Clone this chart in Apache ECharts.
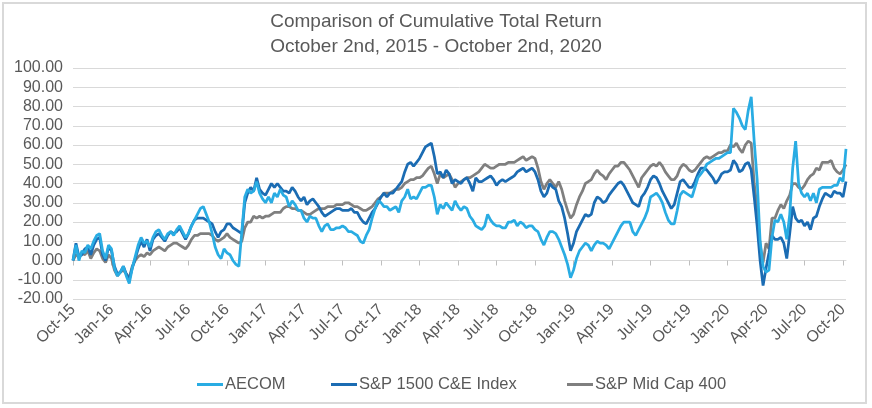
<!DOCTYPE html>
<html><head><meta charset="utf-8">
<script src="https://cdn.jsdelivr.net/npm/echarts@6/dist/echarts.min.js"></script>
<style>html,body{margin:0;padding:0;background:#fff}#c{width:872px;height:408px}</style>
</head><body><div id="c"></div>
<script>
const tickLabels = ['Oct-15','Jan-16','Apr-16','Jul-16','Oct-16','Jan-17','Apr-17','Jul-17','Oct-17','Jan-18','Apr-18','Jul-18','Oct-18','Jan-19','Apr-19','Jul-19','Oct-19','Jan-20','Apr-20','Jul-20','Oct-20'];
const seriesNames = ['AECOM', 'S&P 1500 C&E Index', 'S&P Mid Cap 400'];
const aecom = [
0, 8, 0, 5, 4, 8, 6, 10, 13, 14, 5, 1, 8, 6,
-4, -8, -6, -3, -8, -12, -4, 2, 8, 12, 9, 10, 7,
12, 15, 16, 13, 11, 14, 15, 13, 16, 18, 15, 12, 14,
18, 21, 24, 27, 28, 24, 20, 14, 7, 3, 1, 6, 4,
3, 0, -2, -3, 15, 33, 37, 35, 36, 41, 35, 32, 30,
33, 30, 35, 33, 37, 34, 33, 28, 31, 29, 26, 26, 22,
20, 23, 22, 22, 18, 15, 18, 19, 16, 16, 17, 17, 18,
17, 15, 15, 14, 13, 10, 9, 13, 16, 22, 27, 31, 30,
28, 28, 26, 27, 28, 25, 31, 33, 37, 32, 33, 32, 35,
38, 38, 39, 39, 33, 24, 29, 27, 30, 28, 26, 31, 28,
26, 28, 27, 23, 21, 18, 17, 16, 18, 24, 21, 19, 18,
18, 17, 17, 20, 20, 21, 18, 20, 19, 17, 18, 18, 16,
15, 11, 8, 12, 15, 15, 14, 11, 7, 3, -2, -9, -5,
1, 5, 7, 9, 8, 5, 8, 10, 9, 9, 8, 6, 9,
12, 15, 18, 20, 20, 20, 15, 13, 16, 19, 22, 26, 33,
34, 35, 33, 30, 25, 21, 19, 19, 26, 34, 36, 35, 34,
33, 38, 43, 45, 47, 50, 51, 52, 53, 53, 54, 55, 56,
56, 79, 77, 74, 70, 68, 78, 85, 62, 42, 10, -3, -6,
-5, 12, 21, 20, 24, 20, 11, 24, 48, 62, 40, 35, 33,
35, 31, 35, 30, 37, 38, 38, 38, 38, 39, 39, 43, 41, 58];
const sp1500 = [
0, 9, 2, 3, 6, 7, 3, 8, 11, 12, 3, 0, 7, 5,
-3, -7, -6, -3, -7, -10, -4, 1, 6, 10, 7, 11, 5,
11, 13, 14, 12, 10, 13, 15, 14, 15, 17, 14, 11, 14,
18, 21, 22, 22, 22, 21, 20, 19, 15, 12, 15, 16, 19,
19, 17, 16, 15, 14, 30, 35, 38, 36, 43, 37, 35, 34,
37, 40, 38, 40, 38, 36, 36, 35, 38, 36, 33, 31, 33,
29, 31, 32, 30, 28, 25, 23, 24, 25, 26, 27, 27, 26,
26, 26, 27, 25, 25, 22, 20, 19, 22, 25, 27, 30, 33,
35, 33, 35, 35, 37, 39, 41, 46, 50, 51, 49, 51, 53,
56, 59, 60, 61, 54, 45, 46, 43, 47, 45, 40, 42, 41,
40, 42, 43, 40, 36, 43, 41, 41, 42, 43, 44, 42, 39,
41, 42, 41, 42, 43, 44, 46, 47, 48, 46, 47, 48, 46,
42, 36, 33, 35, 40, 38, 37, 31, 28, 22, 14, 5, 9,
15, 18, 21, 24, 23, 24, 30, 33, 32, 30, 31, 34, 36,
38, 40, 41, 39, 36, 33, 30, 29, 28, 33, 35, 38, 42,
44, 43, 40, 36, 33, 30, 27, 29, 35, 41, 42, 40, 38,
38, 41, 45, 48, 48, 47, 45, 43, 40, 42, 45, 46, 46,
47, 52, 50, 46, 47, 50, 51, 47, 33, 18, 0, -13, -4,
4, 13, 11, 11, 12, 9, 1, 14, 28, 22, 20, 21, 18,
20, 16, 22, 23, 28, 32, 35, 34, 33, 36, 35, 35, 33, 41];
const midcap = [
0, 3, 2, 4, 3, 5, 1, 4, 6, 5, 1, -1, 3, 1,
-5, -8, -6, -5, -7, -9, -3, 0, 2, 3, 2, 4, 3,
5, 6, 7, 6, 5, 7, 8, 9, 9, 8, 7, 6, 8,
11, 13, 13, 14, 14, 14, 14, 13, 11, 10, 11, 12, 14,
12, 11, 10, 9, 10, 17, 20, 20, 23, 22, 23, 22, 23,
23, 24, 25, 25, 25, 27, 28, 28, 27, 27, 26, 26, 25,
24, 24, 25, 26, 27, 27, 27, 28, 28, 28, 29, 29, 29,
30, 30, 29, 28, 28, 27, 26, 26, 27, 28, 30, 32, 33,
35, 35, 35, 36, 37, 37, 38, 40, 41, 42, 42, 43, 43,
44, 46, 48, 49, 45, 40, 45, 43, 44, 45, 42, 38, 40,
41, 42, 43, 43, 44, 45, 46, 48, 50, 49, 48, 48, 49,
50, 50, 50, 51, 51, 51, 52, 53, 54, 52, 53, 54, 53,
48, 41, 37, 40, 42, 40, 38, 41, 37, 31, 26, 22, 24,
29, 33, 36, 40, 41, 42, 45, 47, 45, 44, 42, 45, 47,
49, 49, 51, 51, 49, 47, 44, 41, 38, 43, 45, 47, 49,
50, 49, 51, 49, 46, 44, 42, 42, 44, 48, 50, 49, 47,
46, 47, 49, 51, 53, 54, 53, 54, 55, 56, 56, 57, 57,
60, 59, 61, 58, 56, 60, 62, 61, 40, 27, 8, -1, 9,
6, 22, 22, 26, 29, 27, 31, 34, 40, 40, 38, 37, 39,
42, 44, 45, 48, 47, 51, 51, 51, 52, 48, 46, 45, 47, 50];

// weekly observation dates (categories)
const dates = [];
const start = Date.UTC(2015, 9, 2);
for (let i = 0; i < aecom.length; i++) {
  const d = new Date(start + i * 7 * 86400000);
  dates.push(d.toISOString().slice(0, 10));
}
const WEEKS_PER_QUARTER = 13;
const showTick = (idx) => idx % WEEKS_PER_QUARTER === 0;

const textColor = '#595959';
const font = 'Liberation Sans, Arial, sans-serif';
const colors = ['#29ace3', '#1b6cb3', '#7f7f7f'];

const chart = echarts.init(document.getElementById('c'), null, {renderer: 'canvas'});
const mkLegend = (name, left) => ({
  data: [name], left: left, top: 371, icon: 'rect', itemWidth: 26, itemHeight: 3,
  textStyle: {color: textColor, fontSize: 16.5, fontFamily: font, padding: [0, 0, 0, -3]}
});
chart.setOption({
  animation: false,
  backgroundColor: '#fff',
  color: colors,
  graphic: [{type: 'rect', shape: {x: 3, y: 3, width: 863, height: 400}, style: {fill: 'none', stroke: '#d9d9d9', lineWidth: 2}, silent: true}],
  title: {
    text: 'Comparison of Cumulative Total Return\nOctober 2nd, 2015 - October 2nd, 2020',
    left: 'center', top: 4,
    textStyle: {color: textColor, fontSize: 19, fontWeight: 'normal', fontFamily: font, lineHeight: 25}
  },
  legend: [mkLegend(seriesNames[0], 192), mkLegend(seriesNames[1], 326), mkLegend(seriesNames[2], 562)],
  grid: {left: 73, right: 26, top: 68, bottom: 109, containLabel: false},
  xAxis: [{
    type: 'category', data: dates, boundaryGap: false,
    axisLine: {show: false, onZero: false}, axisTick: {show: false},
    axisLabel: {
      interval: (idx) => showTick(idx), rotate: 45, margin: 8,
      color: textColor, fontSize: 16, fontFamily: font,
      formatter: (v, idx) => tickLabels[Math.round(idx / WEEKS_PER_QUARTER)]
    },
    splitLine: {show: false}
  }, {
    type: 'category', data: dates, boundaryGap: false, position: 'bottom',
    axisLine: {show: true, onZero: true, lineStyle: {color: '#d9d9d9', width: 1}},
    axisTick: {show: true, interval: (idx) => showTick(idx), length: 5, lineStyle: {color: '#bfbfbf'}},
    axisLabel: {show: false}, splitLine: {show: false}
  }],
  yAxis: {
    type: 'value', min: -20, max: 100, interval: 10,
    axisLine: {show: false}, axisTick: {show: false},
    axisLabel: {color: textColor, fontSize: 16, fontFamily: font, margin: 10, formatter: (v) => v.toFixed(2)},
    splitLine: {lineStyle: {color: '#d9d9d9', width: 1}}
  },
  series: [aecom, sp1500, midcap].map((arr, k) => ({
    name: seriesNames[k], type: 'line', data: arr, xAxisIndex: 0,
    showSymbol: false, symbol: 'none', smooth: false,
    lineStyle: {width: 2.75, color: colors[k]}, z: 3 - k
  }))
});
</script></body></html>
